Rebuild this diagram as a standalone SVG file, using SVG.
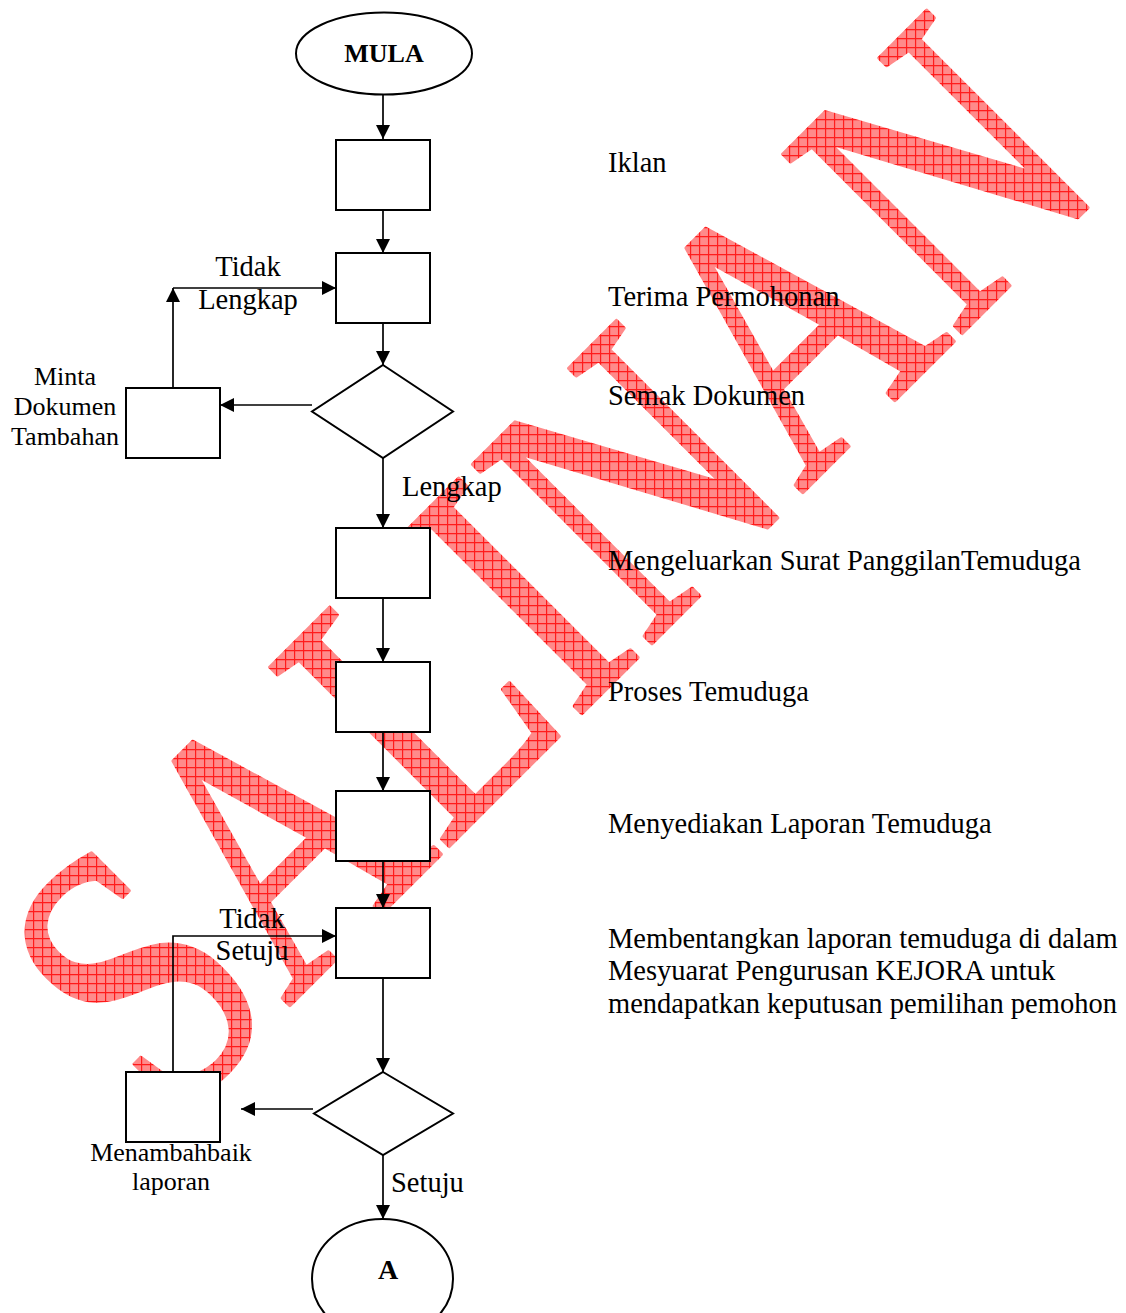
<svg xmlns="http://www.w3.org/2000/svg" width="1126" height="1313" viewBox="0 0 1126 1313">
<defs>
<pattern id="grid" patternUnits="userSpaceOnUse" width="9" height="9" patternTransform="scale(1.2706 1) rotate(45)">
<rect width="9" height="9" fill="#ff8a8a"/>
<path d="M0 0.6H9M0.6 0V9" stroke="#ff1a1a" stroke-width="1.2" fill="none"/>
</pattern>
<marker id="ah" markerUnits="userSpaceOnUse" markerWidth="14" markerHeight="14" refX="14" refY="7" orient="auto" viewBox="0 0 14 14">
<path d="M0 0L14 7L0 14z" fill="#000"/>
</marker>
<style>
.wm{font-family:"Liberation Serif","Times New Roman",serif;font-size:386px;fill:url(#grid);stroke:url(#grid);stroke-width:4;stroke-linejoin:round}
.shape{fill:#fff;stroke:#000;stroke-width:2}
.ln{fill:none;stroke:#000;stroke-width:1.7;marker-end:url(#ah)}
.t{font-family:"Liberation Serif","Times New Roman",serif;font-size:28.5px;fill:#000}
.s{font-family:"Liberation Serif","Times New Roman",serif;font-size:26px;fill:#000}
.b{font-family:"Liberation Serif","Times New Roman",serif;font-weight:bold;fill:#000}
.m{text-anchor:middle}
</style>
</defs>
<rect width="1126" height="1313" fill="#fff"/>
<g id="watermark">
<text class="wm" transform="translate(168 1127) rotate(-45) scale(0.787 1)" x="0" y="0">SALINAN</text>
</g>
<g id="mula"><ellipse class="shape" cx="384" cy="53.5" rx="88" ry="41"/><text class="b m" x="384" y="62" font-size="26">MULA</text></g>
<g id="iklan"><rect class="shape" x="336" y="140" width="94" height="70"/></g>
<g id="terima"><rect class="shape" x="336" y="253" width="94" height="70"/></g>
<g id="semak"><path class="shape" d="M383 365L453 411.5L383 458L312 411.5Z"/></g>
<g id="minta"><rect class="shape" x="126" y="388" width="94" height="70"/></g>
<g id="surat"><rect class="shape" x="336" y="528" width="94" height="70"/></g>
<g id="proses"><rect class="shape" x="336" y="662" width="94" height="70"/></g>
<g id="laporan"><rect class="shape" x="336" y="791" width="94" height="70"/></g>
<g id="bentang"><rect class="shape" x="336" y="908" width="94" height="70"/></g>
<g id="keputusan"><path class="shape" d="M383 1072L453 1113.5L383 1155L314 1113.5Z"/></g>
<g id="tambahbaik"><rect class="shape" x="126" y="1072" width="94" height="70"/></g>
<g id="a"><ellipse class="shape" cx="382.5" cy="1279" rx="70.5" ry="60"/><text class="b m" x="388" y="1279" font-size="28">A</text></g>
<g id="connectors">
<path class="ln" d="M383 95V139"/>
<path class="ln" d="M383 210V253"/>
<path class="ln" d="M383 323V365"/>
<path class="ln" d="M312 405H220"/>
<path class="ln" d="M173 388V288"/>
<path class="ln" d="M173 288H336"/>
<path class="ln" d="M383 458V528"/>
<path class="ln" d="M383 598V662"/>
<path class="ln" d="M383 732V791"/>
<path class="ln" d="M383 861V908"/>
<path class="ln" d="M173 1072V936H336"/>
<path class="ln" d="M383 978V1072"/>
<path class="ln" d="M313 1109H241"/>
<path class="ln" d="M383 1155V1219"/>
</g>
<g id="labels">
<text class="t" x="608" y="172">Iklan</text>
<text class="t" x="608" y="306">Terima Permohonan</text>
<text class="t" x="608" y="405">Semak Dokumen</text>
<text class="t" x="608" y="570">Mengeluarkan Surat PanggilanTemuduga</text>
<text class="t" x="608" y="701">Proses Temuduga</text>
<text class="t" x="608" y="833">Menyediakan Laporan Temuduga</text>
<text class="t" x="608" y="948">Membentangkan laporan temuduga di dalam</text>
<text class="t" x="608" y="980">Mesyuarat Pengurusan KEJORA untuk</text>
<text class="t" x="608" y="1013">mendapatkan keputusan pemilihan pemohon</text>
<text class="t m" x="248" y="276">Tidak</text>
<text class="t m" x="248" y="309">Lengkap</text>
<text class="s m" x="65" y="385">Minta</text>
<text class="s m" x="65" y="415">Dokumen</text>
<text class="s m" x="65" y="445">Tambahan</text>
<text class="t" x="402" y="496">Lengkap</text>
<text class="t m" x="252" y="928">Tidak</text>
<text class="t m" x="252" y="960">Setuju</text>
<text class="s m" x="171" y="1161">Menambahbaik</text>
<text class="s m" x="171" y="1190">laporan</text>
<text class="t" x="391" y="1192">Setuju</text>
</g>
</svg>
